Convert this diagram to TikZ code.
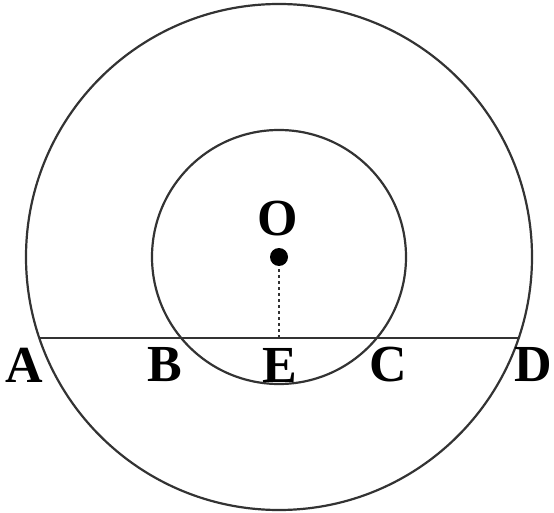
\documentclass[tikz,border=0pt]{standalone}
\usepackage{fontspec}
\setmainfont{Liberation Serif}
\begin{document}
\begin{tikzpicture}[x=1pt,y=-1pt,
  geo/.style={line width=2.2pt,draw=black!80},
  lab/.style={font=\fontsize{52}{52}\selectfont\bfseries,inner sep=0pt,anchor=center}]
\useasboundingbox (0,0) rectangle (554,513);
\coordinate (O) at (279,257);
\draw[geo] (O) circle (253);
\draw[geo] (O) circle (127);
\coordinate (A) at (39.7,338);
\coordinate (D) at (518.3,338);
\coordinate (E) at (279,338);
\draw[geo] (A) -- (D);
\draw[line width=2.2pt,draw=black!80,dash pattern=on 3pt off 3pt] (O) -- (E);
\fill (O) circle (9);
\node[lab] (lO) at (278,219) {O};
\node[lab] (lA) at (24,365) {A};
\node[lab] (lB) at (165,365) {B};
\node[lab] (lE) at (280,365) {E};
\node[lab] (lC) at (388,365) {C};
\node[lab] (lD) at (533,365) {D};
\end{tikzpicture}
\end{document}
